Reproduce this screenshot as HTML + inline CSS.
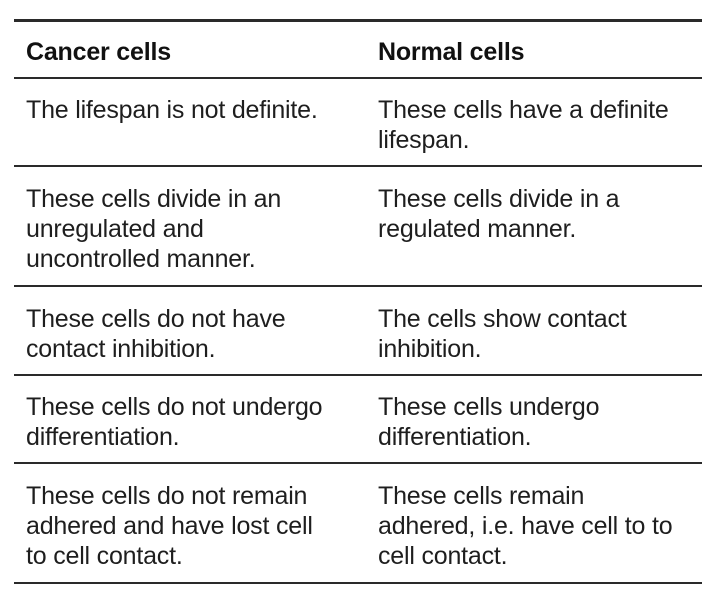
<!DOCTYPE html>
<html><head><style>
body{margin:0;width:720px;height:594px;background:#fff;position:relative;overflow:hidden;font-family:"Liberation Sans",sans-serif;color:#1e1e1e;}
.l{position:absolute;left:14px;width:688px;background:#2a2a2a;}
.t{position:absolute;font-size:25px;line-height:30px;white-space:nowrap;letter-spacing:-0.2px;}
.h{font-weight:bold;color:#111;}
</style></head><body>
<div class="l" style="top:19px;height:3px"></div>
<div class="l" style="top:77px;height:2px"></div>
<div class="l" style="top:165px;height:2px"></div>
<div class="l" style="top:285px;height:2px"></div>
<div class="l" style="top:374px;height:2px"></div>
<div class="l" style="top:462px;height:2px"></div>
<div class="l" style="top:582px;height:2px"></div>

<div class="t h" style="left:26px;top:37px">Cancer cells</div>
<div class="t h" style="left:378px;top:37px">Normal cells</div>

<div class="t" style="left:26px;top:95px">The lifespan is not definite.</div>
<div class="t" style="left:378px;top:95px">These cells have a definite<br>lifespan.</div>

<div class="t" style="left:26px;top:184px">These cells divide in an<br>unregulated and<br>uncontrolled manner.</div>
<div class="t" style="left:378px;top:184px">These cells divide in a<br>regulated manner.</div>

<div class="t" style="left:26px;top:304px">These cells do not have<br>contact inhibition.</div>
<div class="t" style="left:378px;top:304px">The cells show contact<br>inhibition.</div>

<div class="t" style="left:26px;top:392px">These cells do not undergo<br>differentiation.</div>
<div class="t" style="left:378px;top:392px">These cells undergo<br>differentiation.</div>

<div class="t" style="left:26px;top:481px">These cells do not remain<br>adhered and have lost cell<br>to cell contact.</div>
<div class="t" style="left:378px;top:481px">These cells remain<br>adhered, i.e. have cell to to<br>cell contact.</div>
</body></html>
